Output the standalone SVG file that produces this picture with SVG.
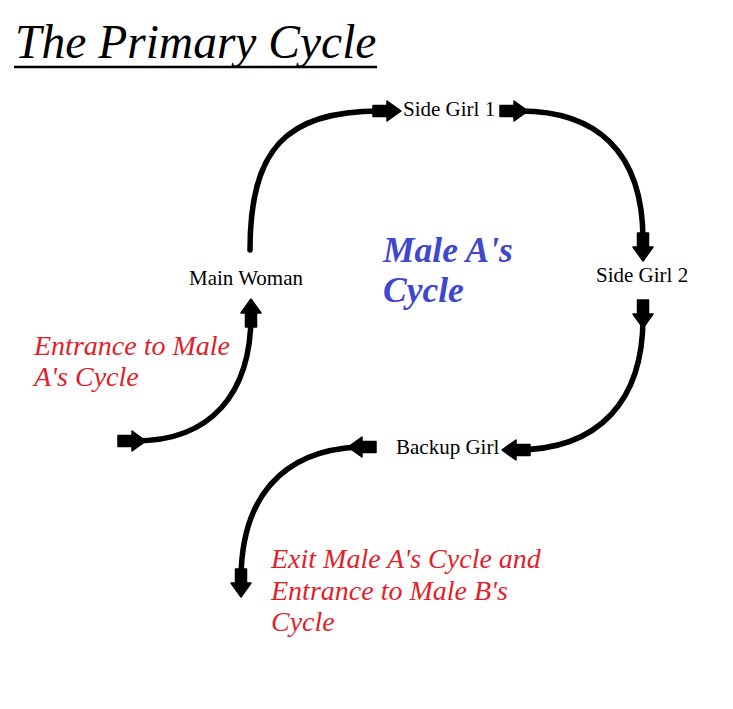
<svg xmlns="http://www.w3.org/2000/svg" width="733" height="709" viewBox="0 0 733 709">
<style>
.node{font-family:"Liberation Serif","Times New Roman",serif;font-size:21px;fill:#000}
.note{font-family:"Liberation Serif","Times New Roman",serif;font-style:italic;font-size:28px;fill:#e01f2a}
.cyc{font-family:"Liberation Serif","Times New Roman",serif;font-style:italic;font-weight:bold;font-size:35.5px;fill:#3f48cc}
.title{font-family:"Liberation Serif","Times New Roman",serif;font-style:italic;font-size:47.5px;fill:#000}
.conn{fill:none;stroke:#000;stroke-width:5.5;stroke-linecap:round}
</style>
<defs>
<path id="ah" d="M-28,-5.5 L-14,-5.5 L-14,-10 L0,0 L-14,10 L-14,5.5 L-28,5.5 Z" fill="#000" stroke="#000" stroke-width="1.5" stroke-linejoin="round"/>
</defs>
<rect width="733" height="709" fill="#fff"/>
<g id="title">
<text class="title" x="15" y="58">The Primary Cycle</text>
<line x1="14" y1="67" x2="377" y2="67" stroke="#000" stroke-width="2.5"/>
</g>
<g id="connectors">
<path class="conn" d="M250,250 C250,150 285,111 380,111"/>
<use href="#ah" transform="translate(401,111)"/>
<path class="conn" d="M520,111 C595,111 643,150 643,240"/>
<use href="#ah" transform="translate(528,111)"/>
<use href="#ah" transform="translate(643,261) rotate(90)"/>
<path class="conn" d="M643,318 C643,400 600,450 515,450"/>
<use href="#ah" transform="translate(643,328) rotate(90)"/>
<use href="#ah" transform="translate(502,450) rotate(180)"/>
<path class="conn" d="M360,447 C280,450 241,500 241,580"/>
<use href="#ah" transform="translate(348,447) rotate(180)"/>
<use href="#ah" transform="translate(241,597) rotate(90)"/>
<path class="conn" d="M135,441 C210,441 251,395 251,315"/>
<use href="#ah" transform="translate(146,441)"/>
<use href="#ah" transform="translate(251,299) rotate(-90)"/>
</g>
<g id="side-girl-1"><text class="node" x="403" y="116">Side Girl 1</text></g>
<g id="side-girl-2"><text class="node" x="596" y="282">Side Girl 2</text></g>
<g id="main-woman"><text class="node" x="189" y="285">Main Woman</text></g>
<g id="backup-girl"><text class="node" x="396" y="454">Backup Girl</text></g>
<g id="male-a-cycle"><text class="cyc" x="383" y="262">Male A's</text><text class="cyc" x="383" y="302">Cycle</text></g>
<g id="entrance-note"><text class="note" x="34" y="355">Entrance to Male</text><text class="note" x="34" y="386">A's Cycle</text></g>
<g id="exit-note"><text class="note" x="271" y="568">Exit Male A's Cycle and</text><text class="note" x="271" y="600">Entrance to Male B's</text><text class="note" x="271" y="631">Cycle</text></g>
</svg>
